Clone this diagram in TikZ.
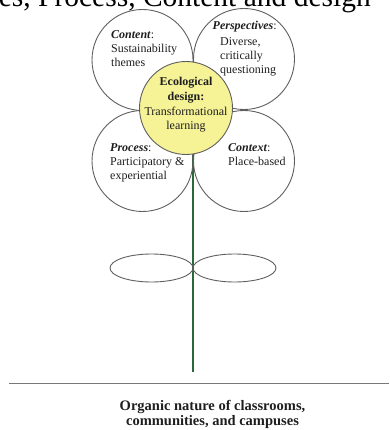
\documentclass[tikz,border=0pt]{standalone}
\usepackage{fontspec}
\setmainfont{Liberation Serif}
\usetikzlibrary{shapes.geometric}

\definecolor{outline}{RGB}{95,95,95}
\definecolor{centrefill}{RGB}{246,242,150}
\definecolor{stemgreen}{RGB}{40,105,60}
\definecolor{groundgray}{RGB}{120,120,120}
\definecolor{inkdark}{RGB}{30,30,30}

\tikzset{
  petal/.style={circle, draw=outline, line width=0.9pt, minimum size=101pt, inner sep=0pt},
  centre/.style={circle, draw=outline, line width=0.9pt, fill=centrefill, minimum size=93pt, inner sep=0pt},
  leaf/.style={ellipse, draw=outline, line width=0.9pt, minimum width=83pt, minimum height=28pt, inner sep=0pt},
  petaltext/.style={align=left, text=inkdark, font=\fontsize{12}{14}\selectfont, inner sep=0pt},
  centretext/.style={align=center, text=inkdark, font=\fontsize{12}{14.6}\selectfont, inner sep=0pt},
  stemline/.style={draw=stemgreen, line width=1.8pt},
  groundline/.style={draw=groundgray, line width=1.4pt},
  caption/.style={align=center, text=inkdark, font=\fontsize{14.5}{15}\selectfont\bfseries, inner sep=0pt},
  headline/.style={text=black, font=\fontsize{29.5}{31}\selectfont, inner sep=0pt}
}

\begin{document}
\begin{tikzpicture}[x=1pt, y=-1pt]
  \useasboundingbox (0,0) rectangle (389,430);
  \clip (0,0) rectangle (389,430);

  % heading, mostly above the page edge
  \node[headline, anchor=base east] (head) at (371,6.2) {es, Process, Content and design};

  % stem
  \coordinate (stemtop) at (193,140);
  \coordinate (stembot) at (193,372);
  \draw[stemline] (stemtop) -- (stembot);

  % petals
  \node[petal] (content) at (142.5,60) {};
  \node[petal] (persp)   at (244,59) {};
  \node[petal] (process) at (142.5,161) {};
  \node[petal] (context) at (244,161) {};

  % centre of the flower
  \node[centre] (core) at (186,108) {};

  % leaves
  \node[leaf] (leafL) at (151.5,268) {};
  \node[leaf] (leafR) at (234.5,268) {};

  % petal labels
  \node[petaltext, anchor=north west] (tcontent) at (111,30)
    {\textbf{\textit{Content}}:\\Sustainability\\themes};
  \node[petaltext, anchor=north west] (tpersp1) at (212.5,21)
    {\textbf{\textit{Perspectives}}:};
  \node[petaltext, anchor=north west] (tpersp2) at (220,37)
    {Diverse,\\critically\\questioning};
  \node[petaltext, anchor=north west] (tprocess) at (110,143)
    {\textbf{\textit{Process}}:\\Participatory \&\\experiential};
  \node[petaltext, anchor=north west] (tcontext) at (228,143)
    {\textbf{\textit{Context}}:\\Place-based};

  % centre label
  \node[centretext] (tcore) at (186,105)
    {\textbf{Ecological}\\\textbf{design:}\\Transformational\\learning};

  % ground and caption
  \coordinate (groundL) at (9,383.5);
  \coordinate (groundR) at (389,383.5);
  \draw[groundline] (groundL) -- (groundR);
  \node[caption] (cap) at (212.5,414)
    {Organic nature of classrooms,\\communities, and campuses};
\end{tikzpicture}
\end{document}
